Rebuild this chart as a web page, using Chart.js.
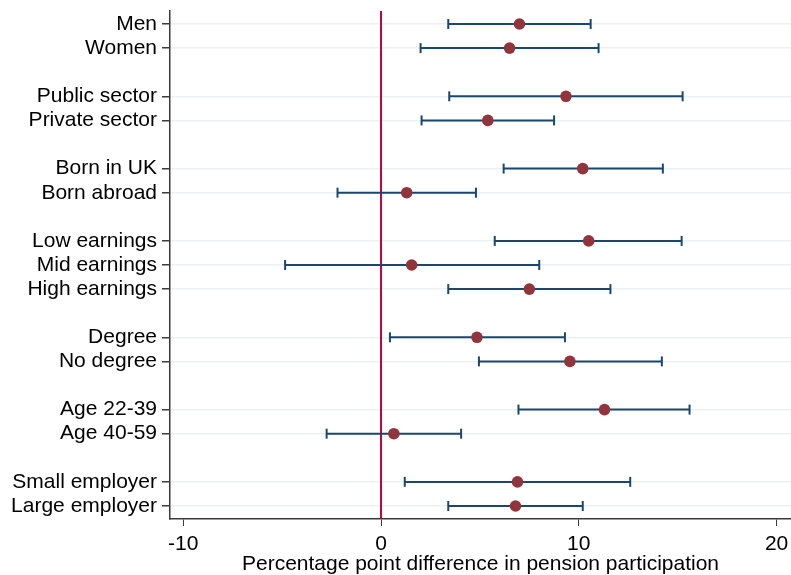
<!DOCTYPE html>
<html>
<head>
<meta charset="utf-8">
<script src="https://cdn.jsdelivr.net/npm/chart.js@4"></script>
<style>
  html, body { margin: 0; padding: 0; background: #ffffff; }
  #wrap { width: 791px; height: 575px; }
</style>
</head>
<body>
<div id="wrap"><canvas id="c" width="791" height="575"></canvas></div>
<script>
// Subgroup labels, point estimates and 95% confidence bounds
const labels = [
  "Men", "Women",
  "Public sector", "Private sector",
  "Born in UK", "Born abroad",
  "Low earnings", "Mid earnings", "High earnings",
  "Degree", "No degree",
  "Age 22-39", "Age 40-59",
  "Small employer", "Large employer"
];
const estimates = [7.0, 6.5, 9.35, 5.4, 10.2, 1.3, 10.5, 1.55, 7.5, 4.85, 9.55, 11.3, 0.65, 6.9, 6.8];
const lower     = [3.4, 2.0, 3.45, 2.05, 6.2, -2.2, 5.75, -4.85, 3.4, 0.45, 4.95, 6.95, -2.75, 1.2, 3.4];
const upper     = [10.6, 11.0, 15.25, 8.75, 14.25, 4.8, 15.2, 8.0, 11.6, 9.3, 14.2, 15.6, 4.05, 12.6, 10.2];
const groupSizes = [2, 2, 2, 3, 2, 2, 2];
const xTicks = [-10, 0, 10, 20];

// Row positions: one empty row between consecutive groups
const rows = [];
let r = 0;
groupSizes.forEach((n) => {
  for (let i = 0; i < n; i++) rows.push(r++);
  r++;
});
const lastRow = rows[rows.length - 1];
const yMin = -0.54, yMax = lastRow + 0.54;

const FONT = "'Liberation Sans', Arial, sans-serif";
const CI_COLOR = "#1a476f";
const PT_COLOR = "#90353b";
const REF_COLOR = "#c10534";
const AXIS_COLOR = "#3a3a3a";

const datasets = [];

// Reference line at zero
datasets.push({
  type: "line",
  data: [{ x: 0, y: yMin }, { x: 0, y: yMax }],
  borderColor: REF_COLOR,
  borderWidth: 2,
  pointRadius: 0,
  order: 3
});

// Confidence intervals with end caps
labels.forEach((lab, i) => {
  datasets.push({
    type: "line",
    data: [{ x: lower[i], y: rows[i] }, { x: upper[i], y: rows[i] }],
    borderColor: CI_COLOR,
    borderWidth: 2,
    pointStyle: "line",
    rotation: 90,
    pointRadius: 5,
    pointBorderWidth: 2,
    pointBorderColor: CI_COLOR,
    pointHoverRadius: 5,
    order: 2
  });
});

// Point estimates
datasets.push({
  type: "scatter",
  data: estimates.map((v, i) => ({ x: v, y: rows[i] })),
  backgroundColor: PT_COLOR,
  borderColor: PT_COLOR,
  borderWidth: 0,
  pointRadius: 5.8,
  pointHoverRadius: 5.8,
  order: 1
});

const labelAt = {};
rows.forEach((p, i) => { labelAt[p] = labels[i]; });

new Chart(document.getElementById("c"), {
  type: "scatter",
  data: { datasets },
  options: {
    responsive: false,
    animation: false,
    events: [],
    layout: { autoPadding: false, padding: { top: 11, right: 0, bottom: 0, left: 0 } },
    plugins: { legend: { display: false }, tooltip: { enabled: false } },
    scales: {
      x: {
        type: "linear",
        min: -10.67,
        max: 20.73,
        afterBuildTicks: (s) => { s.ticks = xTicks.map(v => ({ value: v })); },
        afterFit: (s) => { s.height = 56; s.paddingLeft = 0; s.paddingRight = 0; },
        grid: {
          drawOnChartArea: false,
          drawTicks: true,
          tickLength: 7,
          tickColor: AXIS_COLOR,
          tickWidth: 1
        },
        border: { display: true, color: AXIS_COLOR, width: 1.5 },
        ticks: {
          color: "#000000",
          font: { family: FONT, size: 21 },
          padding: 6,
          autoSkip: false,
          maxRotation: 0,
          callback: (v) => String(v)
        },
        title: {
          display: true,
          text: "Percentage point difference in pension participation",
          color: "#000000",
          font: { family: FONT, size: 21 },
          padding: { top: 0, bottom: -2 }
        }
      },
      y: {
        type: "linear",
        reverse: true,
        min: yMin,
        max: yMax,
        afterBuildTicks: (s) => { s.ticks = rows.map(v => ({ value: v })); },
        afterFit: (s) => { s.width = 170; s.paddingTop = 0; s.paddingBottom = 0; },
        grid: {
          color: "#eaf2f3",
          lineWidth: 1.5,
          drawTicks: true,
          tickLength: 8,
          tickColor: AXIS_COLOR,
          tickWidth: 1.5
        },
        border: { display: true, color: AXIS_COLOR, width: 1.5 },
        ticks: {
          color: "#000000",
          font: { family: FONT, size: 21 },
          padding: 5,
          autoSkip: false,
          callback: (v) => labelAt[v] !== undefined ? labelAt[v] : ""
        }
      }
    }
  }
});
</script>
</body>
</html>
